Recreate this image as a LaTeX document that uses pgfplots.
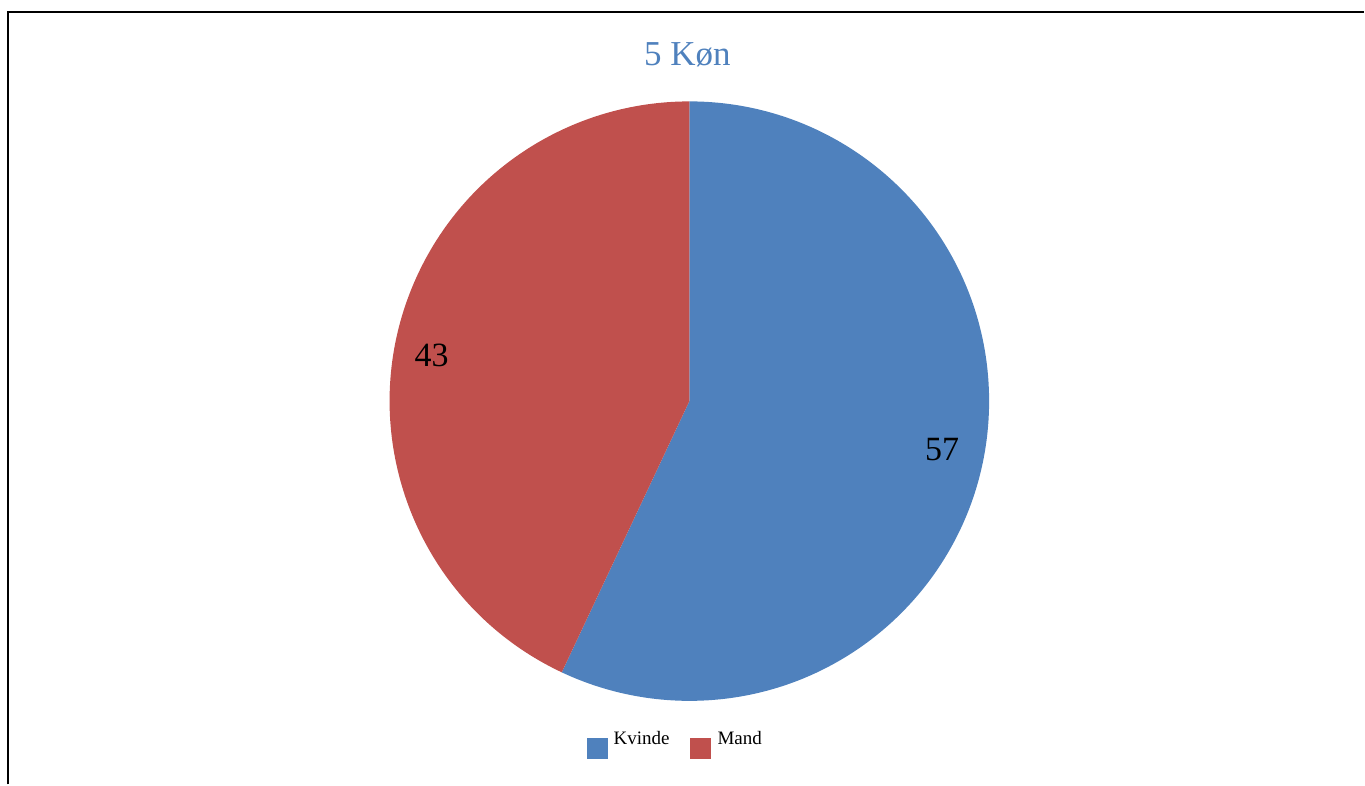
\documentclass[border=0pt]{standalone}
\usepackage{fontspec}
\setmainfont{Liberation Serif}
\usepackage{pgfplots}
\pgfplotsset{compat=1.18}
\usepackage{pgfplotstable}

\definecolor{kvinde}{RGB}{79,129,189}
\definecolor{mand}{RGB}{192,80,77}

% andele i procent
\pgfplotstableread{
navn   vaerdi
Kvinde 57
Mand   43
}\koen

\pgfplotstablegetelem{0}{vaerdi}\of\koen \let\vk\pgfplotsretval
\pgfplotstablegetelem{1}{vaerdi}\of\koen \let\vm\pgfplotsretval
% vinkler: start i toppen, med uret
\pgfmathsetmacro\ak{90-3.6*\vk}
\pgfmathsetmacro\am{\ak-3.6*\vm}

\begin{document}
\begin{tikzpicture}
\begin{axis}[
    x=1pt, y=1pt,
    xmin=0, xmax=1365, ymin=0, ymax=785,
    hide axis, clip=false,
]
\path (axis cs:0,0) rectangle (axis cs:1365,785);
% ramme
\draw[line width=2.5pt] (axis cs:8,0) -- (axis cs:8,773) -- (axis cs:1365,773);

% cirkeludsnit
\fill[kvinde] (axis cs:690,383.5) -- ++(90:300)
    arc[start angle=90, end angle=\ak, radius=300pt] -- cycle;
\fill[mand] (axis cs:690,383.5) -- ++(\ak:300)
    arc[start angle=\ak, end angle=\am, radius=300pt] -- cycle;

% titel og etiketter
\node[anchor=base, text=kvinde, font=\fontsize{35}{40}\selectfont]
    at (axis cs:688,719) {5 Køn};
\node[anchor=base, font=\fontsize{34}{38}\selectfont] at (axis cs:943,324) {\vk};
\node[anchor=base, font=\fontsize{34}{38}\selectfont] at (axis cs:432,418) {\vm};

% forklaring
\fill[kvinde] (axis cs:588,25) rectangle (axis cs:609,46);
\node[anchor=base west, inner sep=0pt, font=\fontsize{19}{22}\selectfont]
    at (axis cs:614,40) {Kvinde};
\fill[mand] (axis cs:691,25) rectangle (axis cs:712,46);
\node[anchor=base west, inner sep=0pt, font=\fontsize{19}{22}\selectfont]
    at (axis cs:718,40) {Mand};
\end{axis}
\end{tikzpicture}
\end{document}
